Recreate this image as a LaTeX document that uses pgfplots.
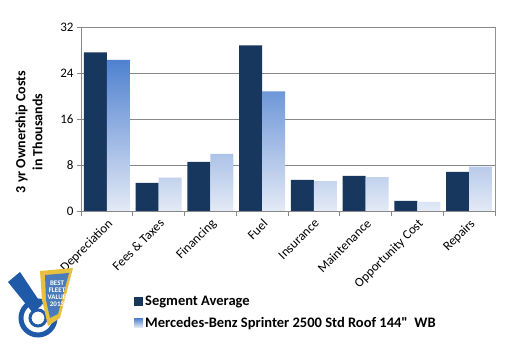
\documentclass[border=0pt]{standalone}
\usepackage{fontspec}
\setmainfont{Carlito}[Ligatures=TeXOff]
\usepackage{pgfplots}
\pgfplotsset{compat=1.18}
\definecolor{segdark}{HTML}{17375E}
\definecolor{sprtop}{HTML}{4F81D0}
\definecolor{sprbot}{HTML}{E4EAF6}
\definecolor{gridgray}{HTML}{888888}
\definecolor{logoblue}{HTML}{1E5AA8}
\definecolor{logogold}{HTML}{E8C040}
\begin{document}
\begin{tikzpicture}
\useasboundingbox (0,0) rectangle (512bp,351bp);
\begin{axis}[
  at={(81bp,140bp)}, anchor=south west,
  scale only axis, width=414bp, height=184bp,
  xmin=-0.5, xmax=7.5, ymin=0, ymax=32,
  ytick={0,8,16,24,32},
  xtick={0,...,7},
  xticklabels={Depreciation, Fees \& Taxes, Financing, Fuel, Insurance, Maintenance, Opportunity Cost, Repairs},
  minor xtick={-0.5,0.5,...,7.5},
  major x tick style={draw=none},
  xtick pos=left, ytick pos=left,
  tick align=outside,
  major tick length=4bp, minor tick length=5bp,
  every tick/.style={gridgray, line width=0.8pt},
  axis line style={gridgray, line width=0.8pt},
  ymajorgrids, grid style={gridgray, line width=0.8pt},
  /pgf/number format/assume math mode=true,
  yticklabel style={font=\fontsize{13bp}{15bp}\selectfont, text=black},
  xticklabel style={font=\fontsize{13bp}{15bp}\selectfont, text=black, rotate=45, anchor=north east, inner sep=2bp},
  ybar=0pt, bar width=0.445,
  legend style={at={(axis description cs:0.128,-0.45)}, anchor=north west, draw=none, fill=none,
    font=\fontsize{14.5bp}{17bp}\selectfont\bfseries, cells={anchor=west}, row sep=6bp, inner sep=0pt},
  legend image code/.code={\fill[#1] (0bp,-4.5bp) rectangle (9bp,4.5bp);},
]
\addplot[fill=segdark, draw=none] coordinates {(0,27.6) (1,4.9) (2,8.55) (3,28.8) (4,5.4) (5,6.1) (6,1.75) (7,6.8)};
\addlegendentry{Segment Average}
\addplot[draw=none, top color=sprtop, bottom color=sprbot] coordinates {(0,26.3) (1,5.8) (2,9.95) (3,20.8) (4,5.2) (5,5.9) (6,1.57) (7,7.7)};
\addlegendentry{Mercedes-Benz Sprinter 2500 Std Roof 144"\ \ WB}
\draw[gridgray!30, line width=1pt] (rel axis cs:1,0.003) -- (rel axis cs:1,0.997);
\end{axis}
\begin{scope}[shift={(0bp,351bp)}, x=1bp, y=-1bp]
  \node[rotate=90, align=center, font=\fontsize{14bp}{17bp}\selectfont\bfseries, inner sep=0pt] at (29,132) {3 yr Ownership Costs\\in Thousands};
  % logo approximation
  \draw[logoblue, line width=5bp] (38,318) circle (17);
  \draw[logoblue, line width=3bp] (38,318) circle (8);
  \fill[logoblue] (8,282) -- (20,272) -- (42,305) -- (33,313) -- cycle;
  \fill[logogold] (40,271) -- (73,268) -- (60,318) -- (48,326) -- (42,300) -- cycle;
  \fill[logoblue!80] (45,275) -- (69,273) -- (58,314) -- (50,318) -- (46,300) -- cycle;
  \node[white, font=\fontsize{7bp}{7bp}\selectfont\bfseries, align=center, inner sep=0pt] at (57,294) {BEST\\FLEET\\VALUE\\2013};
\end{scope}
\end{tikzpicture}
\end{document}
